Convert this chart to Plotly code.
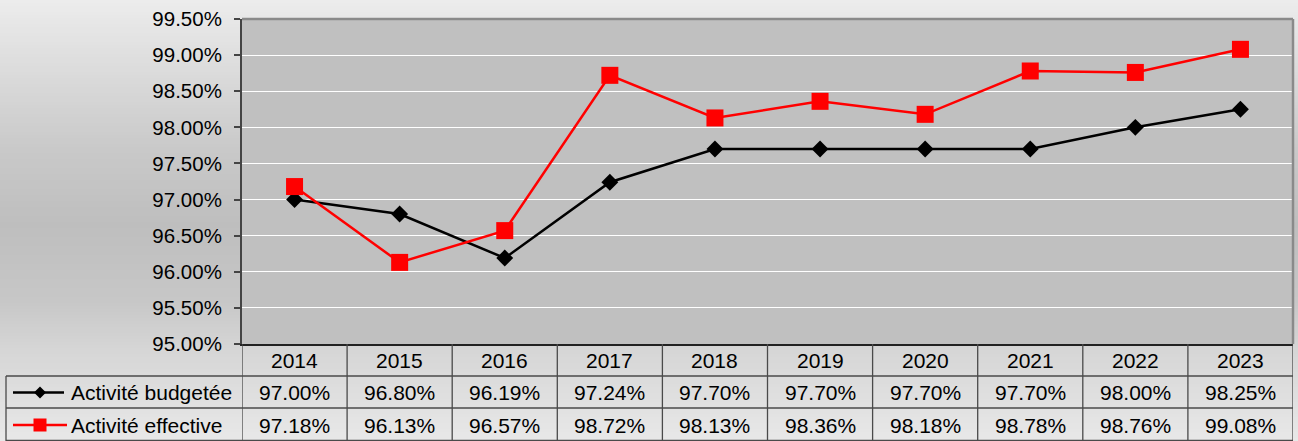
import plotly.graph_objects as go

W, H = 1298, 441

years = ["2014", "2015", "2016", "2017", "2018", "2019", "2020", "2021", "2022", "2023"]
budgetee = [97.00, 96.80, 96.19, 97.24, 97.70, 97.70, 97.70, 97.70, 98.00, 98.25]
effective = [97.18, 96.13, 96.57, 98.72, 98.13, 98.36, 98.18, 98.78, 98.76, 99.08]
series_names = ["Activité budgetée", "Activité effective"]
y_ticks = [95.0, 95.5, 96.0, 96.5, 97.0, 97.5, 98.0, 98.5, 99.0, 99.5]

FONT = "Liberation Sans, Arial, sans-serif"
FS = 20.5
FS_T = 21

# pixel geometry
PL, PR, PT, PB = 242, 1293, 19, 344
ROW1, ROW2, ROW3 = 376, 408, 441
TL = 6


def px(x):
    return x / W


def py(y):
    return 1 - y / H


fig = go.Figure()
fig.add_trace(go.Scatter(
    x=years, y=budgetee, mode="lines+markers", name=series_names[0],
    line=dict(color="#000000", width=2.5),
    marker=dict(symbol="diamond", size=13, color="#000000"),
))
fig.add_trace(go.Scatter(
    x=years, y=effective, mode="lines+markers", name=series_names[1],
    line=dict(color="#ff0000", width=2.5),
    marker=dict(symbol="square", size=17, color="#ff0000"),
))

shapes = []
# background gradient (strips)
stops = [(0, 236), (150, 201), (225, 190), (300, 199), (350, 214), (441, 232)]


def grey_at(y):
    for (y0, c0), (y1, c1) in zip(stops[:-1], stops[1:]):
        if y0 <= y <= y1:
            t = (y - y0) / (y1 - y0)
            return int(round(c0 + (c1 - c0) * t))
    return stops[-1][1]


step = 3
for y in range(0, H, step):
    g = grey_at(y + step / 2)
    shapes.append(dict(type="rect", xref="paper", yref="paper", layer="below",
                       x0=0, x1=1, y0=py(y + step + 0.5), y1=py(y),
                       fillcolor=f"rgb({g},{g},{g})", line=dict(width=0)))
# plot area fill
shapes.append(dict(type="rect", xref="x domain", yref="y domain", layer="below",
                   x0=0, x1=1, y0=0, y1=1, fillcolor="#c0c0c0", line=dict(width=0)))
# plot area top and right borders
shapes.append(dict(type="line", xref="paper", yref="paper", layer="above",
                   x0=px(PL), x1=px(PR), y0=py(PT), y1=py(PT),
                   line=dict(color="#8a8a8a", width=2.5)))
shapes.append(dict(type="line", xref="paper", yref="paper", layer="above",
                   x0=px(PR), x1=px(PR), y0=py(PT), y1=py(PB),
                   line=dict(color="#8a8a8a", width=2.5)))

# table grid
TC = "#4a4a4a"
TW = 1.3
for k in range(len(years) + 1):
    shapes.append(dict(type="line", xref="x", yref="paper", layer="above",
                       x0=k - 0.5, x1=k - 0.5, y0=py(PB), y1=py(ROW3),
                       line=dict(color=TC, width=TW)))
for yy in (ROW1, ROW2, ROW3 - 0.5):
    shapes.append(dict(type="line", xref="paper", yref="paper", layer="above",
                       x0=px(TL), x1=px(PR), y0=py(yy), y1=py(yy),
                       line=dict(color=TC, width=TW)))
shapes.append(dict(type="line", xref="paper", yref="paper", layer="above",
                   x0=px(TL), x1=px(TL), y0=py(ROW1), y1=py(ROW3),
                   line=dict(color=TC, width=TW)))

# legend keys in table
r1c = (ROW1 + ROW2) / 2 + 0.5
r2c = (ROW2 + ROW3) / 2 + 0.5
shapes.append(dict(type="line", xref="paper", yref="paper", layer="above",
                   x0=px(13), x1=px(64), y0=py(r1c), y1=py(r1c),
                   line=dict(color="#000000", width=2.5)))
d = 6
shapes.append(dict(type="path", xref="paper", yref="paper", layer="above",
                   path=(f"M {px(40 - d)},{py(r1c)} L {px(40)},{py(r1c - d)} "
                         f"L {px(40 + d)},{py(r1c)} L {px(40)},{py(r1c + d)} Z"),
                   fillcolor="#000000", line=dict(color="#000000", width=0)))
shapes.append(dict(type="line", xref="paper", yref="paper", layer="above",
                   x0=px(13), x1=px(67), y0=py(r2c), y1=py(r2c),
                   line=dict(color="#ff0000", width=2.5)))
s = 6.5
shapes.append(dict(type="rect", xref="paper", yref="paper", layer="above",
                   x0=px(40 - s), x1=px(40 + s), y0=py(r2c + s), y1=py(r2c - s),
                   fillcolor="#ff0000", line=dict(width=0)))

annotations = []
tf = dict(family=FONT, size=FS_T, color="#000000")
for i, yr in enumerate(years):
    annotations.append(dict(x=i, xref="x", y=py((PB + ROW1) / 2 + 0.5), yref="paper",
                            text=yr, showarrow=False, font=tf,
                            xanchor="center", yanchor="middle"))
for vals, yc in ((budgetee, r1c), (effective, r2c)):
    for i, v in enumerate(vals):
        annotations.append(dict(x=i, xref="x", y=py(yc), yref="paper",
                                text=f"{v:.2f}%", showarrow=False, font=tf,
                                xanchor="center", yanchor="middle"))
for name, yc in zip(series_names, (r1c, r2c)):
    annotations.append(dict(x=px(69), xref="paper", y=py(yc), yref="paper",
                            text=name, showarrow=False, font=tf,
                            xanchor="left", yanchor="middle"))

fig.update_layout(
    width=W, height=H,
    margin=dict(l=0, r=0, t=0, b=0, pad=0, autoexpand=False),
    paper_bgcolor="#e6e6e6",
    plot_bgcolor="rgba(0,0,0,0)",
    showlegend=False,
    font=dict(family=FONT, size=FS, color="#000000"),
    xaxis=dict(domain=[px(PL), px(PR)], type="category", range=[-0.5, 9.5],
               automargin=False,
               showticklabels=False, ticks="", showgrid=False, zeroline=False,
               showline=True, linecolor="#222222", linewidth=2),
    yaxis=dict(domain=[py(PB), py(PT)], range=[95, 99.5], tickvals=y_ticks,
               automargin=False,
               ticktext=[f"{t:.2f}%" for t in y_ticks],
               ticks="outside", ticklen=6, tickwidth=2, tickcolor="#444444",
               ticklabelstandoff=8,
               showline=True, linecolor="#444444", linewidth=2,
               showgrid=True, gridcolor="#ffffff", gridwidth=1.3, zeroline=False,
               tickfont=dict(family=FONT, size=FS, color="#000000")),
    shapes=shapes,
    annotations=annotations,
)

fig.write_html(
    "out.html",
    config={"displayModeBar": False},
    post_script="document.body.style.margin='0';document.body.style.padding='0';"
                "document.body.style.overflow='hidden';",
)
